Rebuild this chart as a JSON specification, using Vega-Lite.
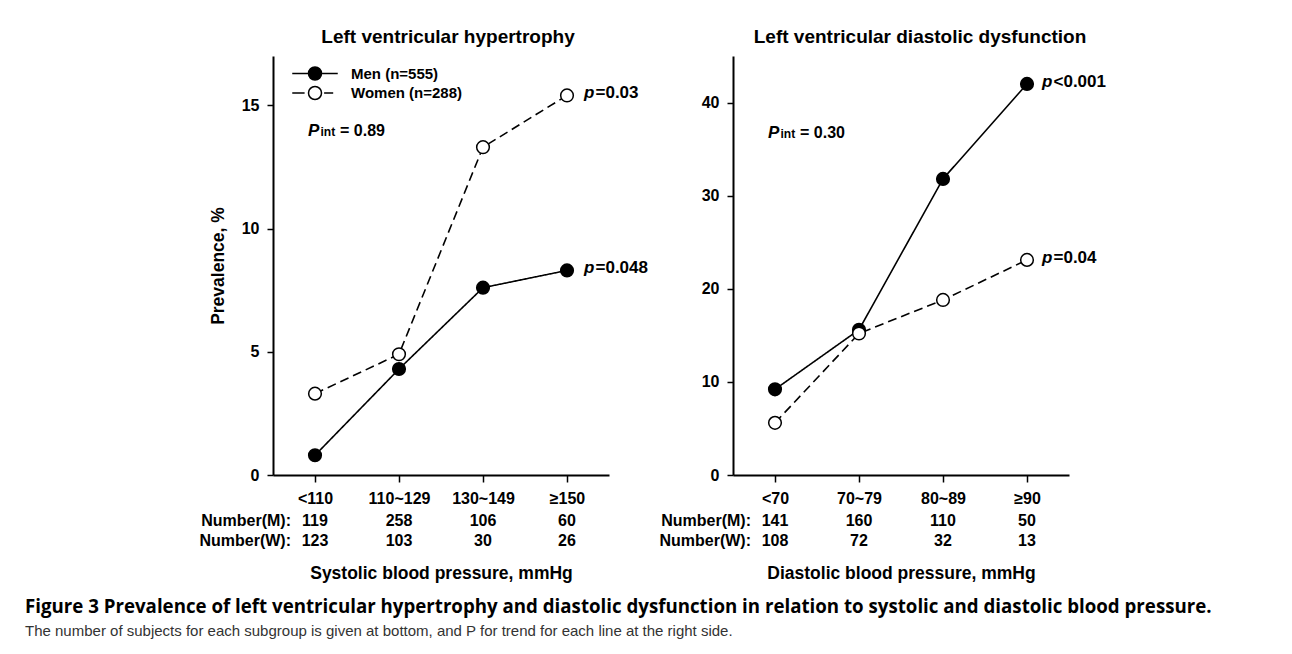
{
  "$schema": "https://vega.github.io/schema/vega-lite/v6.json",
  "background": "white",
  "padding": {"left": 25, "top": 28, "right": 0, "bottom": 0},
  "datasets": {
    "lvh": [
      {"bp": "<110", "sex": "Men (n=555)", "prev": 0.8, "n": "119"},
      {"bp": "110~129", "sex": "Men (n=555)", "prev": 4.3, "n": "258"},
      {"bp": "130~149", "sex": "Men (n=555)", "prev": 7.6, "n": "106"},
      {"bp": "≥150", "sex": "Men (n=555)", "prev": 8.3, "n": "60", "p": "=0.048"},
      {"bp": "<110", "sex": "Women (n=288)", "prev": 3.3, "n": "123"},
      {"bp": "110~129", "sex": "Women (n=288)", "prev": 4.9, "n": "103"},
      {"bp": "130~149", "sex": "Women (n=288)", "prev": 13.3, "n": "30"},
      {"bp": "≥150", "sex": "Women (n=288)", "prev": 15.4, "n": "26", "p": "=0.03"}
    ],
    "ldd": [
      {"bp": "<70", "sex": "Men (n=555)", "prev": 9.2, "n": "141"},
      {"bp": "70~79", "sex": "Men (n=555)", "prev": 15.6, "n": "160"},
      {"bp": "80~89", "sex": "Men (n=555)", "prev": 31.8, "n": "110"},
      {"bp": "≥90", "sex": "Men (n=555)", "prev": 42.0, "n": "50", "p": "<0.001"},
      {"bp": "<70", "sex": "Women (n=288)", "prev": 5.6, "n": "108"},
      {"bp": "70~79", "sex": "Women (n=288)", "prev": 15.2, "n": "72"},
      {"bp": "80~89", "sex": "Women (n=288)", "prev": 18.8, "n": "32"},
      {"bp": "≥90", "sex": "Women (n=288)", "prev": 23.1, "n": "13", "p": "=0.04"}
    ],
    "rowlabels": [
      {"sex": "Men (n=555)", "label": "Number(M):"},
      {"sex": "Women (n=288)", "label": "Number(W):"}
    ],
    "pint": [
      {"panel": "lvh", "value": "= 0.89"},
      {"panel": "ldd", "value": "= 0.30"}
    ]
  },
  "config": {
    "view": {"stroke": null},
    "font": "Liberation Sans",
    "axis": {
      "grid": false,
      "domainColor": "black",
      "domainWidth": 2,
      "tickColor": "black",
      "tickWidth": 1.5,
      "tickSize": 6,
      "labelColor": "black",
      "labelFont": "Liberation Sans",
      "labelFontSize": 16,
      "labelFontWeight": "bold",
      "titleColor": "black",
      "titleFont": "Liberation Sans",
      "titleFontSize": 17.5,
      "titleFontWeight": "bold"
    },
    "text": {"font": "Liberation Sans", "color": "black", "fontWeight": "bold"}
  },
  "title": {
    "text": "Figure 3 Prevalence of left ventricular hypertrophy and diastolic dysfunction in relation to systolic and diastolic blood pressure.",
    "subtitle": "The number of subjects for each subgroup is given at bottom, and P for trend for each line at the right side.",
    "orient": "bottom",
    "anchor": "start",
    "frame": "group",
    "dx": -248,
    "offset": 16,
    "font": "Open Sans",
    "fontSize": 18.7,
    "fontWeight": "bold",
    "color": "black",
    "subtitleFont": "Liberation Sans",
    "subtitleFontSize": 15,
    "subtitleColor": "#333333",
    "subtitlePadding": 8,
    "limit": 1500
  },
  "spacing": 124,
  "bounds": "flush",
  "resolve": {
    "scale": {"fill": "independent", "shape": "independent", "strokeDash": "independent"},
    "legend": {"fill": "independent", "shape": "independent", "strokeDash": "independent"}
  },
  "hconcat": [
    {
      "width": 336,
      "height": 419,
      "data": {"name": "lvh"},
      "title": {"text": "Left ventricular hypertrophy", "fontSize": 19, "fontWeight": "bold", "color": "black", "font": "Liberation Sans", "baseline": "alphabetic", "offset": -6, "dx": 7},
      "resolve": {"scale": {"y": "independent"}, "axis": {"y": "independent"}},
      "encoding": {
        "x": {"field": "bp", "type": "ordinal", "scale": {"type": "point", "padding": 0.5, "domain": ["<110", "110~129", "130~149", "≥150"]}, "axis": {"title": "Systolic blood pressure, mmHg", "labelAngle": 0, "tickSize": 7, "labelPadding": 8, "titlePadding": 58}}
      },
      "layer": [
        {
          "mark": {"type": "line", "color": "black", "strokeWidth": 1.6},
          "encoding": {
            "y": {"field": "prev", "type": "quantitative", "scale": {"domain": [0, 17], "nice": false}, "axis": {"values": [0, 5, 10, 15], "title": "Prevalence, %", "titlePadding": 14, "labelPadding": 8}},
            "strokeDash": {"field": "sex", "type": "nominal", "scale": {"domain": ["Men (n=555)", "Women (n=288)"], "range": [[1, 0], [9, 5]]}, "legend": null},
            "order": {"value": null}
          }
        },
        {
          "mark": {"type": "point", "filled": true, "shape": "circle", "size": 160, "stroke": "black", "strokeWidth": 1.5, "opacity": 1},
          "encoding": {
            "y": {"field": "prev", "type": "quantitative", "scale": {"domain": [0, 17], "nice": false}, "axis": null},
            "fill": {"field": "sex", "type": "nominal", "scale": {"domain": ["Men (n=555)", "Women (n=288)"], "range": ["black", "white"]}, "legend": null}
          }
        },
        {
          "data": {"name": "rowlabels"},
          "mark": {"type": "point", "filled": true, "size": 169, "stroke": "black", "strokeWidth": 1.5, "opacity": 1},
          "encoding": {
            "x": {"datum": "<110", "type": "ordinal"},
            "y": {"field": "sex", "type": "nominal", "scale": {"type": "point", "domain": ["Men (n=555)", "Women (n=288)"], "range": [17.5, 37], "padding": 0}, "axis": null},
            "shape": {"field": "sex", "type": "nominal", "scale": {"domain": ["Men (n=555)", "Women (n=288)"], "range": ["M-3.5,0L3.5,0M-1,0A1,1,0,1,1,1,0A1,1,0,1,1,-1,0Z", "M-3.5,0L-1.6,0M1.4,0L2.8,0M-1,0A1,1,0,1,1,1,0A1,1,0,1,1,-1,0Z"]}, "legend": null},
            "fill": {"field": "sex", "type": "nominal", "scale": {"domain": ["Men (n=555)", "Women (n=288)"], "range": ["black", "white"]}, "legend": null}
          }
        },
        {
          "data": {"name": "rowlabels"},
          "mark": {"type": "text", "align": "left", "baseline": "middle", "dx": 36, "fontWeight": "bold", "fontSize": 15},
          "encoding": {
            "x": {"datum": "<110", "type": "ordinal"},
            "y": {"field": "sex", "type": "nominal", "scale": {"type": "point", "domain": ["Men (n=555)", "Women (n=288)"], "range": [17.5, 37], "padding": 0}, "axis": null},
            "text": {"field": "sex", "type": "nominal"}
          }
        },
        {
          "transform": [{"filter": "datum.p"}],
          "mark": {"type": "text", "text": "p", "align": "left", "baseline": "middle", "dx": 17, "dy": -2, "fontStyle": "italic", "fontWeight": "bold", "fontSize": 17},
          "encoding": {
            "y": {"field": "prev", "type": "quantitative", "scale": {"domain": [0, 17], "nice": false}, "axis": null}
          }
        },
        {
          "transform": [{"filter": "datum.p"}],
          "mark": {"type": "text", "align": "left", "baseline": "middle", "dx": 28.5, "dy": -2, "fontWeight": "bold", "fontSize": 17},
          "encoding": {
            "y": {"field": "prev", "type": "quantitative", "scale": {"domain": [0, 17], "nice": false}, "axis": null},
            "text": {"field": "p", "type": "nominal"}
          }
        },
        {
          "data": {"name": "pint"},
          "transform": [{"filter": "datum.panel === 'lvh'"}],
          "mark": {"type": "text", "text": "P", "align": "left", "baseline": "alphabetic", "dx": -7, "fontStyle": "italic", "fontWeight": "bold", "fontSize": 17},
          "encoding": {
            "x": {"datum": "<110", "type": "ordinal"},
            "y": {"datum": 13.75, "type": "quantitative", "scale": {"domain": [0, 17], "nice": false}, "axis": null}
          }
        },
        {
          "data": {"name": "pint"},
          "transform": [{"filter": "datum.panel === 'lvh'"}],
          "mark": {"type": "text", "text": "int", "align": "left", "baseline": "alphabetic", "dx": 5.5, "fontWeight": "bold", "fontSize": 12},
          "encoding": {
            "x": {"datum": "<110", "type": "ordinal"},
            "y": {"datum": 13.75, "type": "quantitative", "scale": {"domain": [0, 17], "nice": false}, "axis": null}
          }
        },
        {
          "data": {"name": "pint"},
          "transform": [{"filter": "datum.panel === 'lvh'"}],
          "mark": {"type": "text", "align": "left", "baseline": "alphabetic", "dx": 25, "fontWeight": "bold", "fontSize": 16},
          "encoding": {
            "x": {"datum": "<110", "type": "ordinal"},
            "y": {"datum": 13.75, "type": "quantitative", "scale": {"domain": [0, 17], "nice": false}, "axis": null},
            "text": {"field": "value", "type": "nominal"}
          }
        },
        {
          "mark": {"type": "text", "baseline": "middle", "fontWeight": "bold", "fontSize": 16},
          "encoding": {
            "y": {"field": "sex", "type": "nominal", "scale": {"type": "point", "domain": ["Men (n=555)", "Women (n=288)"], "range": [465, 485], "padding": 0}, "axis": null},
            "text": {"field": "n", "type": "nominal"}
          }
        },
        {
          "data": {"name": "rowlabels"},
          "mark": {"type": "text", "align": "right", "baseline": "middle", "dx": -24, "fontWeight": "bold", "fontSize": 16},
          "encoding": {
            "x": {"datum": "<110", "type": "ordinal"},
            "y": {"field": "sex", "type": "nominal", "scale": {"type": "point", "domain": ["Men (n=555)", "Women (n=288)"], "range": [465, 485], "padding": 0}, "axis": null},
            "text": {"field": "label", "type": "nominal"}
          }
        }
      ]
    },
    {
      "width": 336,
      "height": 419,
      "data": {"name": "ldd"},
      "title": {"text": "Left ventricular diastolic dysfunction", "fontSize": 19, "fontWeight": "bold", "color": "black", "font": "Liberation Sans", "baseline": "alphabetic", "offset": -6, "dx": 19},
      "resolve": {"scale": {"y": "independent"}, "axis": {"y": "independent"}},
      "encoding": {
        "x": {"field": "bp", "type": "ordinal", "scale": {"type": "point", "padding": 0.5, "domain": ["<70", "70~79", "80~89", "≥90"]}, "axis": {"title": "Diastolic blood pressure, mmHg", "labelAngle": 0, "tickSize": 7, "labelPadding": 8, "titlePadding": 58}}
      },
      "layer": [
        {
          "mark": {"type": "line", "color": "black", "strokeWidth": 1.6},
          "encoding": {
            "y": {"field": "prev", "type": "quantitative", "scale": {"domain": [0, 45], "nice": false}, "axis": {"values": [0, 10, 20, 30, 40], "title": null, "labelPadding": 8}},
            "strokeDash": {"field": "sex", "type": "nominal", "scale": {"domain": ["Men (n=555)", "Women (n=288)"], "range": [[1, 0], [9, 5]]}, "legend": null},
            "order": {"value": null}
          }
        },
        {
          "mark": {"type": "point", "filled": true, "shape": "circle", "size": 160, "stroke": "black", "strokeWidth": 1.5, "opacity": 1},
          "encoding": {
            "y": {"field": "prev", "type": "quantitative", "scale": {"domain": [0, 45], "nice": false}, "axis": null},
            "fill": {"field": "sex", "type": "nominal", "scale": {"domain": ["Men (n=555)", "Women (n=288)"], "range": ["black", "white"]}, "legend": null}
          }
        },
        {
          "transform": [{"filter": "datum.p"}],
          "mark": {"type": "text", "text": "p", "align": "left", "baseline": "middle", "dx": 15, "dy": -2, "fontStyle": "italic", "fontWeight": "bold", "fontSize": 17},
          "encoding": {
            "y": {"field": "prev", "type": "quantitative", "scale": {"domain": [0, 45], "nice": false}, "axis": null}
          }
        },
        {
          "transform": [{"filter": "datum.p"}],
          "mark": {"type": "text", "align": "left", "baseline": "middle", "dx": 26.5, "dy": -2, "fontWeight": "bold", "fontSize": 17},
          "encoding": {
            "y": {"field": "prev", "type": "quantitative", "scale": {"domain": [0, 45], "nice": false}, "axis": null},
            "text": {"field": "p", "type": "nominal"}
          }
        },
        {
          "data": {"name": "pint"},
          "transform": [{"filter": "datum.panel === 'ldd'"}],
          "mark": {"type": "text", "text": "P", "align": "left", "baseline": "alphabetic", "dx": -7, "fontStyle": "italic", "fontWeight": "bold", "fontSize": 17},
          "encoding": {
            "x": {"datum": "<70", "type": "ordinal"},
            "y": {"datum": 36.2, "type": "quantitative", "scale": {"domain": [0, 45], "nice": false}, "axis": null}
          }
        },
        {
          "data": {"name": "pint"},
          "transform": [{"filter": "datum.panel === 'ldd'"}],
          "mark": {"type": "text", "text": "int", "align": "left", "baseline": "alphabetic", "dx": 5.5, "fontWeight": "bold", "fontSize": 12},
          "encoding": {
            "x": {"datum": "<70", "type": "ordinal"},
            "y": {"datum": 36.2, "type": "quantitative", "scale": {"domain": [0, 45], "nice": false}, "axis": null}
          }
        },
        {
          "data": {"name": "pint"},
          "transform": [{"filter": "datum.panel === 'ldd'"}],
          "mark": {"type": "text", "align": "left", "baseline": "alphabetic", "dx": 25, "fontWeight": "bold", "fontSize": 16},
          "encoding": {
            "x": {"datum": "<70", "type": "ordinal"},
            "y": {"datum": 36.2, "type": "quantitative", "scale": {"domain": [0, 45], "nice": false}, "axis": null},
            "text": {"field": "value", "type": "nominal"}
          }
        },
        {
          "mark": {"type": "text", "baseline": "middle", "fontWeight": "bold", "fontSize": 16},
          "encoding": {
            "y": {"field": "sex", "type": "nominal", "scale": {"type": "point", "domain": ["Men (n=555)", "Women (n=288)"], "range": [465, 485], "padding": 0}, "axis": null},
            "text": {"field": "n", "type": "nominal"}
          }
        },
        {
          "data": {"name": "rowlabels"},
          "mark": {"type": "text", "align": "right", "baseline": "middle", "dx": -24, "fontWeight": "bold", "fontSize": 16},
          "encoding": {
            "x": {"datum": "<70", "type": "ordinal"},
            "y": {"field": "sex", "type": "nominal", "scale": {"type": "point", "domain": ["Men (n=555)", "Women (n=288)"], "range": [465, 485], "padding": 0}, "axis": null},
            "text": {"field": "label", "type": "nominal"}
          }
        }
      ]
    }
  ]
}
